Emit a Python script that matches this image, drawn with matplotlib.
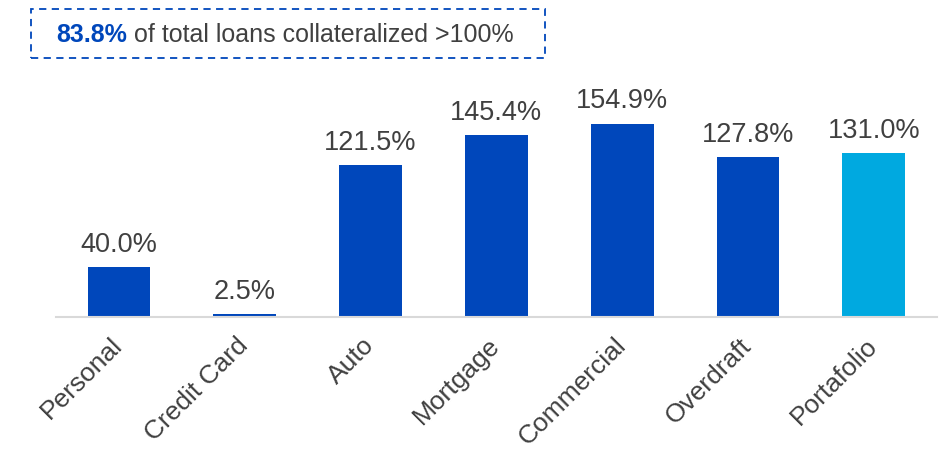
import matplotlib.pyplot as plt
from matplotlib.patches import Rectangle

plt.rcParams['font.family'] = ['Liberation Sans', 'DejaVu Sans']

# collateral coverage by loan type
categories = ['Personal', 'Credit Card', 'Auto', 'Mortgage', 'Commercial', 'Overdraft', 'Portafolio']
coverage = [40.0, 2.5, 121.5, 145.4, 154.9, 127.8, 131.0]
share_over_100 = 83.8

dark_blue = '#0047BB'
light_blue = '#00A9E0'
text_gray = '#404040'
colors = [dark_blue] * (len(categories) - 1) + [light_blue]

fig = plt.figure(figsize=(9.5, 4.52), dpi=100)
ax = fig.add_axes([0.059, 0.296, 0.927, 0.498])

x = list(range(len(categories)))
bars = ax.bar(x, coverage, width=0.5, color=colors, edgecolor='none')

for xi, v in zip(x, coverage):
    ax.text(xi, v + 8, f'{v:.1f}%', ha='center', va='bottom',
            fontsize=19.5, color=text_gray, clip_on=False)

ax.set_xlim(-0.5, 6.5)
ax.set_ylim(0, 180)
ax.set_yticks([])
for side in ['top', 'right', 'left']:
    ax.spines[side].set_visible(False)
ax.spines['bottom'].set_color('#D9D9D9')
ax.spines['bottom'].set_linewidth(1.5)

ax.set_xticks(x)
ax.set_xticklabels(categories, rotation=45, ha='right', va='center',
                   rotation_mode='anchor', fontsize=19, color=text_gray)
ax.tick_params(axis='x', length=0, pad=17)

# headline box at the top left
box = Rectangle((31 / 950, 1 - 59 / 452), 514 / 950, 49 / 452, transform=fig.transFigure,
                fill=False, edgecolor=dark_blue, linestyle=(0, (4, 3)), linewidth=1.3)
fig.add_artist(box)
t1 = fig.text(56 / 950, 1 - 35 / 452, f'{share_over_100:.1f}%', fontsize=18,
              fontweight='bold', color=dark_blue, va='center')
ax.annotate(' of total loans collateralized >100%', xy=(1, 0.5), xycoords=t1,
            va='center', ha='left', fontsize=18, color=text_gray, annotation_clip=False)

fig.savefig('out.png', dpi=100)
